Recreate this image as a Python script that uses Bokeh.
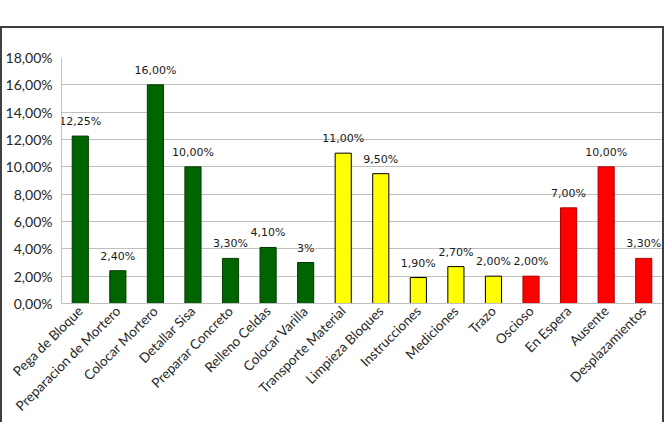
import math
from bokeh.plotting import figure
from bokeh.models import ColumnDataSource, FixedTicker, Range1d
from bokeh.core.properties import value
from bokeh.embed import file_html
from bokeh.resources import INLINE

# ---- data ----
categories = ["Pega de Bloque", "Preparacion de Mortero", "Colocar Mortero", "Detallar Sisa",
              "Preparar Concreto", "Relleno Celdas", "Colocar Varilla", "Transporte Material",
              "Limpieza Bloques", "Instrucciones", "Mediciones", "Trazo", "Oscioso",
              "En Espera", "Ausente", "Desplazamientos"]
values = [12.25, 2.40, 16.00, 10.00, 3.30, 4.10, 3.00, 11.00, 9.50, 1.90, 2.70, 2.00,
          2.00, 7.00, 10.00, 3.30]
value_labels = ["12,25%", "2,40%", "16,00%", "10,00%", "3,30%", "4,10%", "3%", "11,00%",
                "9,50%", "1,90%", "2,70%", "2,00%", "2,00%", "7,00%", "10,00%", "3,30%"]
groups = ["Productivo"] * 7 + ["Contributivo"] * 5 + ["No contributivo"] * 4
y_ticks = [0, 2, 4, 6, 8, 10, 12, 14, 16, 18]
y_tick_labels = ["0,00%", "2,00%", "4,00%", "6,00%", "8,00%", "10,00%", "12,00%",
                 "14,00%", "16,00%", "18,00%"]

# ---- styles ----
fill_map = {"Productivo": "#006400", "Contributivo": "#FFFF00", "No contributivo": "#FF0000"}
line_map = {"Productivo": "#003C00", "Contributivo": "#000000", "No contributivo": "#B00000"}

src = ColumnDataSource(dict(
    cat=categories, val=values, lab=value_labels,
    fill=[fill_map[g] for g in groups], line=[line_map[g] for g in groups],
))

p = figure(x_range=categories, y_range=Range1d(0, 18), width=664, height=396,
           output_backend="svg", toolbar_location=None,
           min_border_left=59, min_border_right=4, min_border_top=29, min_border_bottom=121)
p.styles = {"margin-top": "26px", "border-top": "2px solid #404040",
            "border-left": "2px solid #404040", "border-right": "2px solid #404040",
            "box-sizing": "border-box"}
p.background_fill_color = "white"
p.border_fill_color = "white"
p.outline_line_color = None

p.vbar(x="cat", top="val", width=0.43, source=src, fill_color="fill",
       line_color="line", line_width=1)

p.text(x="cat", y="val", text="lab", source=src, text_align="center",
       text_baseline="bottom", y_offset=-8, text_font=value("DejaVu Sans"),
       text_font_size="11px", text_color="#1a1a1a")

# axes
p.yaxis.ticker = FixedTicker(ticks=y_ticks)
p.yaxis.major_label_overrides = {t: l for t, l in zip(y_ticks, y_tick_labels)}
p.yaxis.major_label_text_font = "Lato"
p.yaxis.major_label_text_font_size = "14px"
p.yaxis.major_label_text_color = "#262626"
p.yaxis.major_tick_out = 0
p.yaxis.major_tick_in = 0
p.yaxis.minor_tick_out = 0
p.yaxis.minor_tick_in = 0
p.yaxis.axis_line_color = "#BFBFBF"
p.yaxis.major_label_standoff = 9

p.xaxis.major_label_orientation = math.pi / 4
p.xaxis.major_label_text_font = "Lato"
p.xaxis.major_label_text_font_size = "13.5px"
p.xaxis.major_label_text_color = "#262626"
p.xaxis.major_tick_out = 0
p.xaxis.major_tick_in = 0
p.xaxis.axis_line_color = "#BFBFBF"
p.xaxis.major_label_standoff = 5

p.xgrid.grid_line_color = None
p.ygrid.grid_line_color = "#BFBFBF"
p.ygrid.grid_line_width = 1

open("out.html", "w").write(file_html(p, INLINE))
